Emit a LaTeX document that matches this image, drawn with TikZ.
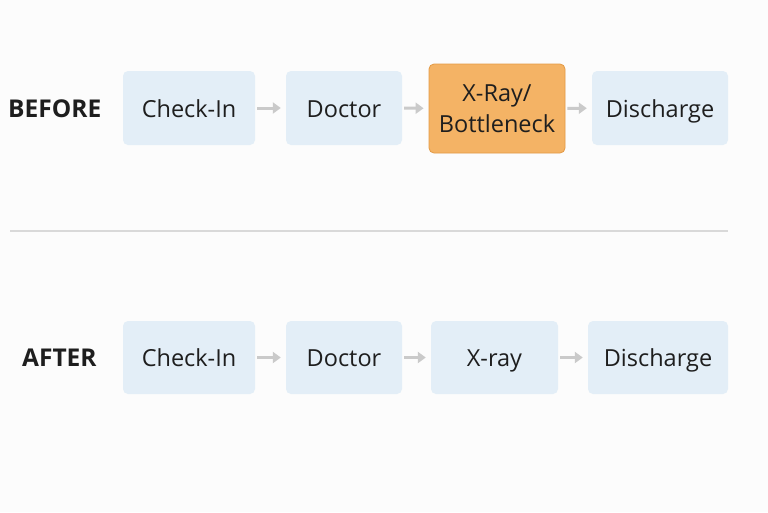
\documentclass[tikz,border=0pt]{standalone}
\usepackage{fontspec}
\setmainfont{Open Sans}
\usetikzlibrary{arrows.meta}
\definecolor{boxblue}{HTML}{E3EEF7}
\definecolor{orangefill}{HTML}{F4B365}
\definecolor{orangeline}{HTML}{E39A45}
\definecolor{arrowgray}{HTML}{CACACA}
\definecolor{sepgray}{HTML}{D9D9D9}
\definecolor{bg}{HTML}{FCFCFC}
\definecolor{txt}{HTML}{1E1E1E}
\begin{document}
\begin{tikzpicture}[x=1pt,y=-1pt,
  stepbox/.style={fill=boxblue, rounded corners=5pt, inner sep=0pt, align=center,
    font=\fontsize{23.5}{31}\selectfont, text=txt, minimum height=74pt},
  oneline/.style={text height=20pt, text depth=2pt},
  hot/.style={stepbox, fill=orangefill, draw=orangeline, line width=0.8pt},
  rowlabel/.style={font=\bfseries\fontsize{24.5}{29}\selectfont, text=txt, inner sep=0pt,
    text height=20pt, text depth=2pt},
  flow/.style={arrowgray, line width=3pt, -{Triangle[length=8pt,width=11pt]}, shorten <=2pt, shorten >=5pt}
]
\fill[bg] (0,0) rectangle (768,512);
\useasboundingbox (0,0) rectangle (768,512);
% BEFORE row
\node[rowlabel, anchor=west] (lb) at (8,108.5) {BEFORE};
\node[stepbox, oneline, minimum width=132pt] (b1) at (189,108) {Check-In};
\node[stepbox, oneline, minimum width=116pt] (b2) at (344,108) {Doctor};
\node[hot, minimum width=136pt, minimum height=89pt] (b3) at (497,108.5) {X-Ray/\\Bottleneck};
\node[stepbox, oneline, minimum width=136pt] (b4) at (660,108) {Discharge};
\draw[flow] (b1) -- (b2);
\draw[flow] (b2) -- (b3);
\draw[flow] (b3) -- (b4);
% separator
\coordinate (s1) at (10,231);
\coordinate (s2) at (728,231);
\draw[sepgray, line width=1.2pt] (s1) -- (s2);
% AFTER row
\node[rowlabel, anchor=west] (la) at (22,357.5) {AFTER};
\node[stepbox, oneline, minimum width=132pt, minimum height=73pt] (a1) at (189,357.5) {Check-In};
\node[stepbox, oneline, minimum width=116pt, minimum height=73pt] (a2) at (344,357.5) {Doctor};
\node[stepbox, oneline, minimum width=127pt, minimum height=73pt] (a3) at (494.5,357.5) {X-ray};
\node[stepbox, oneline, minimum width=140pt, minimum height=73pt] (a4) at (658,357.5) {Discharge};
\draw[flow] (a1) -- (a2);
\draw[flow] (a2) -- (a3);
\draw[flow] (a3) -- (a4);
\end{tikzpicture}
\end{document}
